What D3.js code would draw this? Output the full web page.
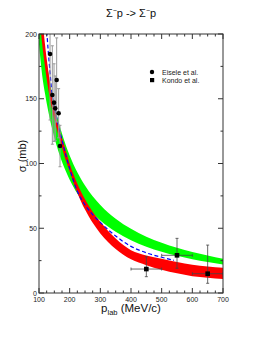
<!DOCTYPE html>
<html>
<head>
<meta charset="utf-8">
<script src="https://cdn.jsdelivr.net/npm/d3@7"></script>
<style>
html,body{margin:0;padding:0;background:#fff;}
svg{display:block;font-family:"Liberation Sans",Arial,sans-serif;}
</style>
</head>
<body>
<svg id="chart" width="270" height="349"></svg>
<script>
// ---- data ----
const pGrid = [100,110,120,130,140,150,165,180,200,225,250,275,300,350,400,450,500,550,600,650,700];
const greenLow  = [192,168.8,153.4,140.5,129.5,120.0,108.1,98.2,87.5,76.8,68.4,61.6,56,47.3,40.8,35.8,31.9,28.7,26.1,23.9,22.0];
const greenHigh = [228,205,186.3,170.6,157.3,145.8,131.2,119.3,106.2,93.3,83.1,74.8,68,57.4,49.6,43.5,38.8,34.9,31.7,29.0,26.5];
const redLow  = [217,193,173.8,158,144.5,134,120.5,107.9,93.7,77.3,64.4,54.2,46,34,26,21.5,18,15.2,13,11.8,10.8];
const redHigh = [245,215,191,172,155,142.8,127.4,116,100,84.3,72.3,62.7,55,42,33,29,26.5,24,21.8,20.5,19.5];
const blueP = [120,126,130,135,142,150,165,175,200,225,250,275,300,350,400,450,500,540];
const blueS = [222,200,187,173,155,144.3,127.6,118,96,78.5,68,60.5,54.5,44,36,31,27.6,25.2];

const eiseleP   = [136,143.5,149,153,157.6,164,168.5];
const eiseleS   = [184.6,152.9,147,142.6,164.5,138.8,113.5];
const eiseleErr = [51,38,30,25,32.5,19,16];

const kondoP   = [450,550,650];
const kondoS   = [18.5,29.1,14.9];
const kondoSLo = [12.6,19.1,7.5];
const kondoSHi = [28,42.2,37];
const kondoPLo = [400,500,600];
const kondoPHi = [500,600,700];

const xMajor = [100,200,300,400,500,600,700];
const yMajor = [0,50,100,150,200];

// ---- layout ----
const L = 39, R = 223, T = 34, B = 293;
const svg = d3.select("#chart");
const x = d3.scaleLinear().domain([100,700]).range([L,R]);
const y = d3.scaleLinear().domain([0,200]).range([B,T]);

svg.append("defs").append("clipPath").attr("id","clip")
  .append("rect").attr("x",L).attr("y",T).attr("width",R-L).attr("height",B-T);
const plot = svg.append("g").attr("clip-path","url(#clip)");

const band = (lo,hi) => d3.area()
  .x((d,i)=>x(pGrid[i])).y0((d,i)=>y(lo[i])).y1((d,i)=>y(hi[i]))
  .curve(d3.curveMonotoneX)(pGrid);

plot.append("path").attr("d",band(greenLow,greenHigh)).attr("fill","#00ff00");
plot.append("path").attr("d",band(redLow,redHigh)).attr("fill","#ff0000");
plot.append("path")
  .attr("d", d3.line().x((d,i)=>x(blueP[i])).y((d,i)=>y(blueS[i])).curve(d3.curveMonotoneX)(blueP))
  .attr("fill","none").attr("stroke","#0000ff").attr("stroke-width",1.2).attr("stroke-dasharray","4,2.5");

// Eisele error bars
const eg = plot.append("g").attr("stroke","#999").attr("stroke-width",1);
eiseleP.forEach((p,i)=>{
  const cx = x(p), y1 = y(eiseleS[i]+eiseleErr[i]), y2 = y(eiseleS[i]-eiseleErr[i]);
  eg.append("line").attr("x1",cx).attr("x2",cx).attr("y1",y1).attr("y2",y2);
  eg.append("line").attr("x1",cx-1.5).attr("x2",cx+1.5).attr("y1",y1).attr("y2",y1);
  eg.append("line").attr("x1",cx-1.5).attr("x2",cx+1.5).attr("y1",y2).attr("y2",y2);
});
// Kondo error bars
const kg = plot.append("g").attr("stroke","#444").attr("stroke-width",0.8);
kondoP.forEach((p,i)=>{
  const cx = x(p), cy = y(kondoS[i]);
  const y1 = y(kondoSHi[i]), y2 = y(kondoSLo[i]);
  const x1 = x(kondoPLo[i]), x2 = x(kondoPHi[i]);
  kg.append("line").attr("x1",cx).attr("x2",cx).attr("y1",y1).attr("y2",y2);
  kg.append("line").attr("x1",cx-1.5).attr("x2",cx+1.5).attr("y1",y1).attr("y2",y1);
  kg.append("line").attr("x1",cx-1.5).attr("x2",cx+1.5).attr("y1",y2).attr("y2",y2);
  kg.append("line").attr("x1",x1).attr("x2",x2).attr("y1",cy).attr("y2",cy);
  kg.append("line").attr("x1",x1).attr("x2",x1).attr("y1",cy-1.5).attr("y2",cy+1.5);
  kg.append("line").attr("x1",x2).attr("x2",x2).attr("y1",cy-1.5).attr("y2",cy+1.5);
});
// markers
plot.selectAll("circle.e").data(eiseleP).enter().append("circle")
  .attr("cx",(d)=>x(d)).attr("cy",(d,i)=>y(eiseleS[i])).attr("r",2.3).attr("fill","#000");
plot.selectAll("rect.k").data(kondoP).enter().append("rect")
  .attr("x",(d)=>x(d)-2.3).attr("y",(d,i)=>y(kondoS[i])-2.3).attr("width",4.6).attr("height",4.6).attr("fill","#000");

// ---- axes (ticks inward) ----
const ax = svg.append("g").attr("stroke","#333").attr("stroke-width",1).attr("fill","none");
ax.append("rect").attr("x",L).attr("y",T).attr("width",R-L).attr("height",B-T);
const xTicks = d3.range(100,701,25);
const yTicks = d3.range(0,201,25);
xTicks.forEach(v=>{
  const len = (v%100===0)?5:2.5;
  ax.append("line").attr("x1",x(v)).attr("x2",x(v)).attr("y1",B).attr("y2",B-len);
  ax.append("line").attr("x1",x(v)).attr("x2",x(v)).attr("y1",T).attr("y2",T+len);
});
yTicks.forEach(v=>{
  const len = (v%50===0)?5:2.5;
  ax.append("line").attr("x1",L).attr("x2",L+len).attr("y1",y(v)).attr("y2",y(v));
  ax.append("line").attr("x1",R).attr("x2",R-len).attr("y1",y(v)).attr("y2",y(v));
});

// tick labels
svg.append("g").selectAll("text").data(xMajor).enter().append("text")
  .attr("x",d=>x(d)).attr("y",B+9).attr("text-anchor","middle")
  .attr("font-size",7).attr("fill","#222").text(d=>d);
svg.append("g").selectAll("text").data(yMajor).enter().append("text")
  .attr("x",L-2).attr("y",d=>y(d)+2.5).attr("text-anchor","end")
  .attr("font-size",7).attr("fill","#222").text(d=>d);

// axis titles
const xl = svg.append("text").attr("x",131).attr("y",312).attr("text-anchor","middle")
  .attr("font-size",11.5).attr("fill","#111");
xl.append("tspan").text("p");
xl.append("tspan").attr("font-size",7.5).attr("dy",3).text("lab");
xl.append("tspan").attr("dy",-3).text(" (MeV/c)");

svg.append("text").attr("transform","translate(26,156) rotate(-90)")
  .attr("text-anchor","middle").attr("font-size",11).attr("fill","#111").text("σ (mb)");

// title
const tt = svg.append("text").attr("x",131).attr("y",17).attr("text-anchor","middle")
  .attr("font-size",11).attr("fill","#111");
tt.append("tspan").text("Σ");
tt.append("tspan").attr("font-size",7).attr("dy",-4).text("−");
tt.append("tspan").attr("dy",4).text("p -> Σ");
tt.append("tspan").attr("font-size",7).attr("dy",-4).text("−");
tt.append("tspan").attr("dy",4).text("p");

// legend
svg.append("circle").attr("cx",152).attr("cy",72).attr("r",2.2).attr("fill","#000");
svg.append("rect").attr("x",150).attr("y",78).attr("width",4.2).attr("height",4.2).attr("fill","#000");
svg.append("text").attr("x",162).attr("y",74.5).attr("font-size",7).attr("fill","#222").text("Eisele et al.");
svg.append("text").attr("x",162).attr("y",83).attr("font-size",7).attr("fill","#222").text("Kondo et al.");
</script>
</body>
</html>
